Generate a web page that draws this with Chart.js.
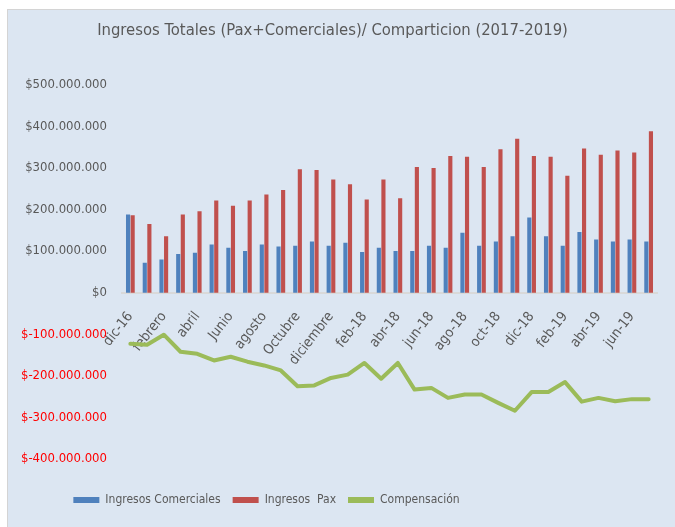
<!DOCTYPE html>
<html lang="es">
<head>
<meta charset="utf-8">
<title>Ingresos Totales (Pax+Comerciales)</title>
<script src="https://cdn.jsdelivr.net/npm/chart.js@4.4.1/dist/chart.umd.min.js"></script>
<style>
  html, body { margin: 0; padding: 0; background: #fff; }
  #panel {
    position: absolute; left: 7px; top: 9px; width: 668px; height: 518px;
    box-sizing: border-box; background: #dce6f2;
    border-left: 1px solid #d4d4d4; border-top: 1px solid #d4d4d4;
  }
</style>
</head>
<body>
<div id="panel"><canvas id="ingresosChart" width="667" height="517"></canvas></div>
<script>
// meses de la serie (dic-16 a jul-19)
const meses = ['dic-16', 'enero', 'febrero', 'marzo', 'abril', 'mayo', 'Junio', 'julio', 'agosto', 'septiembre',
  'Octubre', 'noviembre', 'diciembre', 'ene-18', 'feb-18', 'mar-18', 'abr-18', 'may-18', 'jun-18', 'jul-18',
  'ago-18', 'sep-18', 'oct-18', 'nov-18', 'dic-18', 'ene-19', 'feb-19', 'mar-19', 'abr-19', 'may-19', 'jun-19', 'jul-19'];

// valores en millones de pesos
const ingresosComerciales = [188, 72, 80, 93, 96, 116, 108, 100, 116, 111, 113, 123, 113, 120, 98, 108, 100, 100, 113, 108,
  144, 113, 123, 136, 181, 136, 113, 146, 128, 123, 128, 123];
const ingresosPax = [186, 165, 136, 188, 196, 222, 209, 222, 236, 247, 297, 295, 272, 261, 224, 272, 227, 302, 300, 329,
  327, 302, 345, 370, 329, 327, 281, 347, 332, 342, 337, 388];
const compensacion = [-123, -125, -101, -142, -147, -163, -154, -166, -175, -187, -225, -223, -205, -197, -169, -207, -169,
  -233, -229, -253, -245, -245, -265, -284, -239, -239, -215, -262, -253, -261, -256, -256];

const yTicks = { min: -400, max: 500, step: 100 };

const FONT = "'Liberation Sans Narrow', 'DejaVu Sans Condensed', 'Liberation Sans', sans-serif";
const GRIS = '#595959';
const toPesos = (arr) => arr.map((v) => v * 1000000);

const formatPesos = (value) => {
  const abs = Math.abs(value).toString().replace(/\B(?=(\d{3})+(?!\d))/g, '.');
  return `$${value < 0 ? '-' : ''}${abs}`;
};

// la leyenda del original no esta centrada, va corrida a la izquierda
const legendShift = {
  id: 'legendShift',
  afterLayout(chart) {
    chart.legend.left -= 66;
    chart.legend.right -= 66;
  },
};

const ctx = document.getElementById('ingresosChart').getContext('2d');

new Chart(ctx, {
  type: 'bar',
  data: {
    labels: meses,
    datasets: [
      {
        label: 'Ingresos Comerciales',
        data: toPesos(ingresosComerciales),
        backgroundColor: '#4f81bd',
        categoryPercentage: 0.55,
        barPercentage: 0.9,
      },
      {
        label: 'Ingresos  Pax',
        data: toPesos(ingresosPax),
        backgroundColor: '#c0504d',
        categoryPercentage: 0.55,
        barPercentage: 0.9,
      },
      {
        type: 'line',
        label: 'Compensación',
        data: toPesos(compensacion),
        borderColor: '#9bbb59',
        backgroundColor: '#9bbb59',
        borderWidth: 4,
        borderJoinStyle: 'round',
        borderCapStyle: 'round',
        pointRadius: 0,
        tension: 0,
      },
    ],
  },
  plugins: [legendShift],
  options: {
    responsive: false,
    animation: false,
    layout: { padding: { left: 0, right: 18, top: 0, bottom: 11 } },
    plugins: {
      title: {
        display: true,
        text: 'Ingresos Totales (Pax+Comerciales)/ Comparticion (2017-2019)',
        color: GRIS,
        font: { family: FONT, size: 16.5, weight: 'normal' },
        padding: { top: 11, bottom: 44 },
      },
      legend: {
        position: 'bottom',
        // titulo vacio: solo deja aire entre el eje y la leyenda
        title: { display: true, text: '', font: { size: 10 }, padding: { top: 11, bottom: 0 } },
        labels: {
          color: GRIS,
          boxWidth: 26,
          boxHeight: 6,
          padding: 12,
          font: { family: FONT, size: 12 },
          generateLabels: (chart) => Chart.defaults.plugins.legend.labels.generateLabels(chart)
            .map((item) => ({ ...item, lineWidth: 0 })),
        },
      },
      tooltip: { enabled: false },
    },
    scales: {
      x: {
        position: { y: 0 },
        grid: { display: false },
        border: { display: true, color: '#d9d9d9', width: 2 },
        ticks: {
          autoSkip: false,
          minRotation: 52,
          maxRotation: 52,
          padding: 8,
          color: GRIS,
          font: { family: FONT, size: 14 },
          callback: (value, index) => (index % 2 === 0 ? meses[index] : ''),
        },
      },
      y: {
        min: yTicks.min * 1000000,
        max: yTicks.max * 1000000,
        grid: { display: false },
        border: { display: false },
        afterFit: (scale) => { scale.width = 114; },
        ticks: {
          stepSize: yTicks.step * 1000000,
          padding: 7,
          font: { family: FONT, size: 13 },
          color: (context) => (context.tick && context.tick.value < 0 ? '#ff0000' : GRIS),
          callback: (value) => formatPesos(value),
        },
      },
    },
  },
});
</script>
</body>
</html>
